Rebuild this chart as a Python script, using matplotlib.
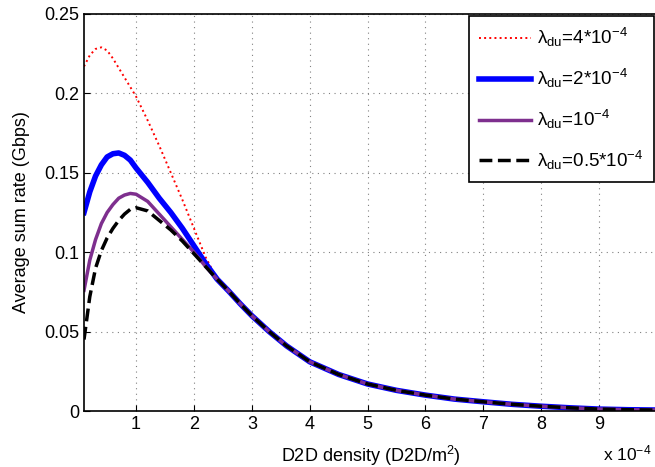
import numpy as np
import matplotlib
matplotlib.use("Agg")
import matplotlib.pyplot as plt

plt.rcParams['font.family'] = ['Liberation Sans', 'DejaVu Sans']
plt.rcParams['mathtext.fontset'] = 'custom'
plt.rcParams['mathtext.rm'] = 'Liberation Sans'
plt.rcParams['mathtext.it'] = 'Liberation Sans:italic'

# D2D density (x 10^-4 D2D/m^2)
x = [0.1, 0.2, 0.3, 0.4, 0.5, 0.6, 0.7, 0.8, 0.9, 1.0, 1.2, 1.4, 1.6, 1.8, 2.0,
     2.2, 2.4, 2.6, 2.8, 3.0, 3.3, 3.6, 4.0, 4.5, 5.0, 5.5, 6.0, 6.5, 7.0, 7.5,
     8.0, 8.5, 9.0, 9.5, 10.0]

# all curves merge after ~2.4
tail = [0.0755, 0.0675, 0.060, 0.050, 0.041, 0.031, 0.023, 0.017, 0.013, 0.010,
        0.0075, 0.0058, 0.0042, 0.003, 0.002, 0.0012, 0.0008, 0.0006]

rate_4 = [0.217, 0.224, 0.228, 0.229, 0.227, 0.222, 0.216, 0.210, 0.204, 0.198,
          0.183, 0.167, 0.150, 0.133, 0.115, 0.097, 0.083] + tail
rate_2 = [0.125, 0.138, 0.148, 0.155, 0.160, 0.162, 0.1625, 0.161, 0.158, 0.153,
          0.144, 0.134, 0.125, 0.115, 0.104, 0.093, 0.083] + tail
rate_1 = [0.076, 0.095, 0.108, 0.118, 0.125, 0.130, 0.134, 0.136, 0.137, 0.1365,
          0.132, 0.124, 0.116, 0.108, 0.100, 0.091, 0.083] + tail
rate_05 = [0.045, 0.072, 0.090, 0.101, 0.109, 0.115, 0.120, 0.124, 0.127, 0.128,
           0.126, 0.120, 0.114, 0.107, 0.099, 0.091, 0.083] + tail

labels = [r'$\mathregular{\lambda_{du}}$=4*10$^{\mathregular{-4}}$',
          r'$\mathregular{\lambda_{du}}$=2*10$^{\mathregular{-4}}$',
          r'$\mathregular{\lambda_{du}}$=10$^{\mathregular{-4}}$',
          r'$\mathregular{\lambda_{du}}$=0.5*10$^{\mathregular{-4}}$']

fig = plt.figure(figsize=(6.55, 4.67), dpi=100)
ax = fig.add_axes([84/655, 56/467, 573/655, 397/467])

ax.plot(x, rate_4, color='red', linestyle=':', linewidth=1.4, label=labels[0])
ax.plot(x, rate_2, color='blue', linestyle='-', linewidth=4, label=labels[1])
ax.plot(x, rate_1, color='#7E2F8E', linestyle='-', linewidth=2.5, label=labels[2])
ax.plot(x, rate_05, color='black', linestyle='--', linewidth=2.5, label=labels[3])

ax.set_xlim(0.1, 10)
ax.set_ylim(0, 0.25)
ax.set_xticks(range(1, 10))
ax.set_yticks([0, 0.05, 0.1, 0.15, 0.2, 0.25])
ax.set_yticklabels(['0', '0.05', '0.1', '0.15', '0.2', '0.25'])
ax.tick_params(direction='in', labelsize=13, length=4)
ax.grid(True, linestyle=(0, (1, 4)), color='gray', linewidth=0.8)
for s in ax.spines.values():
    s.set_linewidth(1.2)

ax.set_xlabel('D2D density (D2D/m$^{\mathregular{2}}$)', fontsize=13, labelpad=8)
ax.set_ylabel('Average sum rate (Gbps)', fontsize=13, labelpad=10)
fig.text(603/655, 7/467, r'x 10$^{\mathregular{-4}}$', fontsize=12.5)

leg = ax.legend(loc='upper right', bbox_to_anchor=(998/1000, 1.0), fontsize=13.5,
                frameon=True, fancybox=False, edgecolor='black', handlelength=2.8,
                labelspacing=0.95, borderpad=0.55, handletextpad=0.3,
                borderaxespad=0.1)
leg.get_frame().set_linewidth(1.2)
leg.get_frame().set_alpha(1)

fig.savefig('out.png', dpi=100)
